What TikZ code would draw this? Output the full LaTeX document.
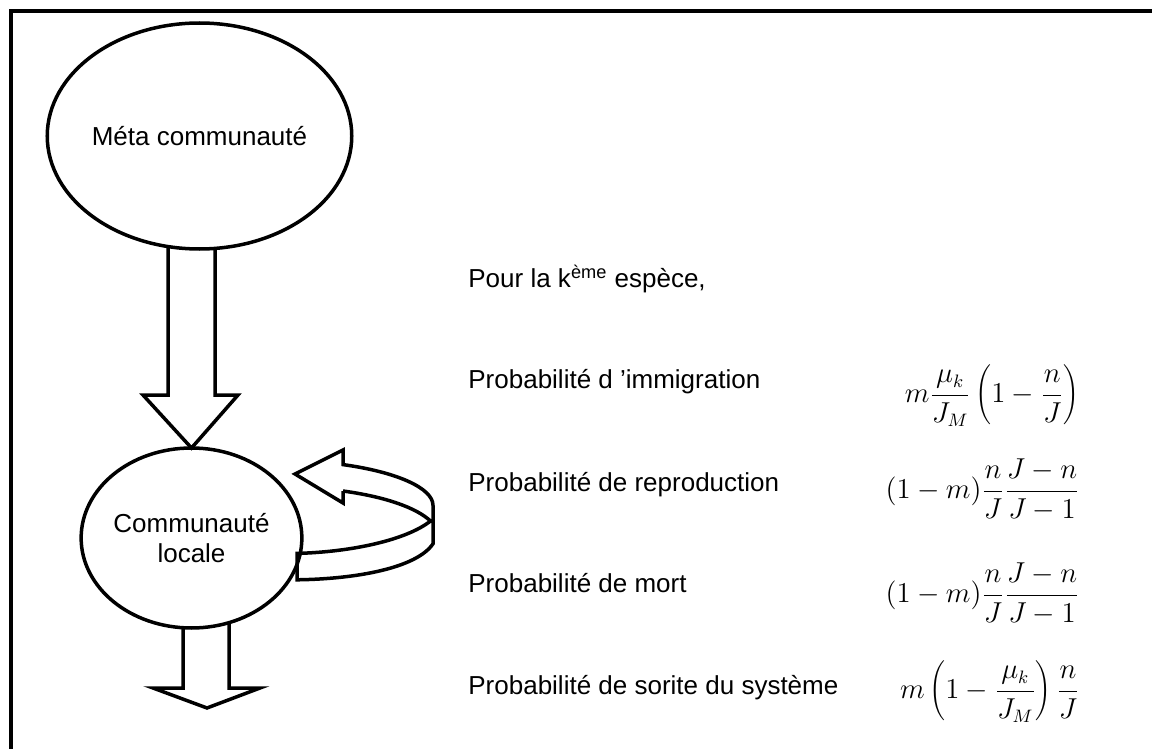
\documentclass[tikz,border=0pt]{standalone}
\usepackage[no-math]{fontspec}
\setmainfont{Liberation Sans}
\usetikzlibrary{shapes.geometric}

\begin{document}
\begin{tikzpicture}[x=0.5pt, y=-0.5pt,
    bubble/.style={draw, ellipse, line width=1.75pt, inner sep=0, outer sep=0,
      align=center, font=\fontsize{13}{15}\selectfont},
    fat/.style={draw, line width=1.75pt, line join=miter},
    txt/.style={anchor=base west, inner sep=0, font=\fontsize{13}{15.6}\selectfont},
    eq/.style={anchor=mid east, inner sep=0, font=\fontsize{13.5}{16}\selectfont}]
  \useasboundingbox (0, 0) rectangle (1152, 749);

  % frame (only top and left edges show)
  \draw [line width=2.1pt] (11, 760) -- (11, 11) -- (1160, 11);

  \node [bubble, minimum width=144.5pt, minimum height=113pt] (meta) at (199.5, 136) {M\'eta communaut\'e};
  \node [bubble, minimum width=104.5pt, minimum height=90pt] (local) at (191.5, 538) {Communaut\'e\\locale};
  \coordinate (sink) at (207, 708);

  % immigration arrow
  \draw [fat] (meta.south) ++(-31.5, -2) -- ++(0, 148) -- ++(-25, 0) -- (local.north)
    -- ++(46.5, -53) -- ++(-23, 0) -- ++(0, -148);

  % leaving the system
  \draw [fat] (local.south) ++(-8.5, 0) -- ++(0, 60) -- ++(-30, 0) -- (sink)
    -- ++(53, -20) -- ++(-31, 0) -- ++(0, -66);

  % loop back onto the local community
  \begin{scope}[shift={(local.center)}]
    \draw [fat] (151.5, -47) -- (151.5, -35) -- (103.5, -64) -- (151.5, -88) -- (151.5, -73.4)
      .. controls (205, -66) and (241.5, -50) .. (241.5, -32.6) -- (241.5, 5.8)
      .. controls (225, 30) and (165, 41) .. (105.5, 41.8) -- (105.5, 15.4)
      .. controls (160, 14) and (215, 2) .. (239, -17)
      .. controls (225, -30) and (195, -41) .. (151.5, -47);
  \end{scope}

  \node [txt] (title) at (468, 287) {Pour la k\textsuperscript{\`eme} esp\`ece,};
  \node [txt] (pimm) at (468, 388) {Probabilit\'e d ’immigration};
  \node [txt] (prep) at (468, 491) {Probabilit\'e de reproduction};
  \node [txt] (pmort) at (468, 592) {Probabilit\'e de mort};
  \node [txt] (psort) at (468, 694) {Probabilit\'e de sorite du syst\`eme};

  \node [eq] (fimm) at (1080, 397) {$\displaystyle m\frac{\mu_k}{J_M}\left(1-\frac{n}{J}\right)$};
  \node [eq] (frep) at (1080, 493) {$\displaystyle (1-m)\frac{n}{J}\frac{J-n}{J-1}$};
  \node [eq] (fmort) at (1080, 597) {$\displaystyle (1-m)\frac{n}{J}\frac{J-n}{J-1}$};
  \node [eq] (fsort) at (1080, 693) {$\displaystyle m\left(1-\frac{\mu_k}{J_M}\right)\frac{n}{J}$};
\end{tikzpicture}
\end{document}
